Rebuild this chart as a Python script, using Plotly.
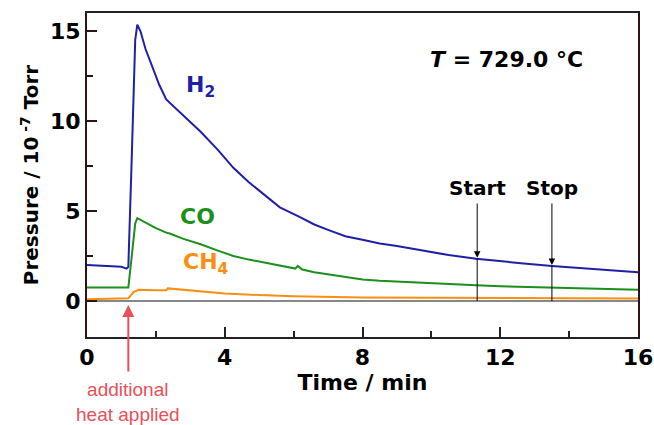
import plotly.graph_objects as go

# ---- data ----
h2_t = [0, 0.5, 1.0, 1.15, 1.2, 1.3, 1.4, 1.46, 1.55, 1.7, 1.9, 2.1, 2.3, 2.8, 3.3, 3.8,
        4.25, 4.7, 5.2, 5.6, 6.2, 6.6, 7.0, 7.5, 8.0, 8.5, 9.0, 9.5, 10.0, 10.5, 11.3,
        12.0, 12.6, 13.5, 14.2, 15.0, 15.5, 16.0]
h2_p = [2.0, 1.95, 1.9, 1.8, 1.9, 8.0, 14.5, 15.35, 15.0, 14.0, 13.0, 12.0, 11.2, 10.3,
        9.4, 8.4, 7.4, 6.6, 5.85, 5.2, 4.65, 4.25, 3.95, 3.6, 3.4, 3.2, 3.05, 2.87, 2.7,
        2.55, 2.35, 2.2, 2.1, 1.95, 1.85, 1.75, 1.7, 1.6]

co_t = [0, 0.5, 1.0, 1.2, 1.3, 1.4, 1.46, 1.7, 2.0, 2.3, 2.4, 2.8, 3.3, 3.8, 4.25, 4.7,
        5.2, 5.6, 6.05, 6.12, 6.25, 6.6, 7.0, 7.5, 8.0, 8.5, 9.5, 10.5, 11.3, 12.0, 13.5,
        15.0, 16.0]
co_p = [0.75, 0.75, 0.74, 0.75, 2.5, 4.3, 4.6, 4.35, 4.05, 3.8, 3.75, 3.45, 3.15, 2.8,
        2.5, 2.3, 2.1, 1.95, 1.8, 1.95, 1.75, 1.6, 1.48, 1.32, 1.2, 1.12, 1.02, 0.93, 0.88,
        0.82, 0.74, 0.67, 0.62]

ch4_t = [0, 1.0, 1.2, 1.35, 1.5, 2.0, 2.3, 2.35, 3.0, 4.0, 5.0, 6.0, 8.0, 10.0, 12.0, 14.0, 16.0]
ch4_p = [0.1, 0.12, 0.15, 0.5, 0.62, 0.6, 0.6, 0.7, 0.6, 0.42, 0.33, 0.26, 0.2, 0.17, 0.16, 0.15, 0.14]

x_ticks = [0, 4, 8, 12, 16]
y_ticks = [0, 5, 10, 15]

start_t, start_p = 11.33, 2.35
stop_t, stop_p = 13.5, 1.95
heat_t = 1.2

BOLD = "DejaVu Sans, sans-serif"
THIN = "Liberation Sans, Arial, sans-serif"
BLUE = "#1f1fa8"
GREEN = "#1c8f1c"
ORANGE = "#f98e14"
RED = "#e8505a"

fig = go.Figure()
fig.add_trace(go.Scatter(x=h2_t, y=h2_p, mode="lines", line=dict(color=BLUE, width=2)))
fig.add_trace(go.Scatter(x=co_t, y=co_p, mode="lines", line=dict(color=GREEN, width=2)))
fig.add_trace(go.Scatter(x=ch4_t, y=ch4_p, mode="lines", line=dict(color=ORANGE, width=2)))

# vertical marker lines for Start / Stop
for t, p in [(start_t, start_p), (stop_t, stop_p)]:
    fig.add_shape(type="line", x0=t, x1=t, y0=0, y1=p, xref="x", yref="y",
                  line=dict(color="black", width=1))

ann = []
ann.append(dict(x=3.3, y=11.9, text="<b>H<sub>2</sub></b>", showarrow=False,
                font=dict(color=BLUE, size=22, family=BOLD)))
ann.append(dict(x=3.2, y=4.7, text="<b>CO</b>", showarrow=False,
                font=dict(color=GREEN, size=22, family=BOLD)))
ann.append(dict(x=3.45, y=2.1, text="<b>CH<sub>4</sub></b>", showarrow=False,
                font=dict(color=ORANGE, size=22, family=BOLD)))
ann.append(dict(x=12.19, y=13.4, text="<b><i>T</i> = 729.0 °C</b>", showarrow=False,
                font=dict(color="black", size=22, family=BOLD)))
for t, p, label in [(start_t, start_p, "Start"), (stop_t, stop_p, "Stop")]:
    ann.append(dict(x=t, y=6.3, text="<b>" + label + "</b>", showarrow=False,
                    font=dict(color="black", size=20, family=BOLD)))
    ann.append(dict(x=t, y=p + 0.05, ax=t, ay=5.5, xref="x", yref="y", axref="x", ayref="y",
                    text="", showarrow=True, arrowhead=2, arrowsize=1.3, arrowwidth=1,
                    arrowcolor="black"))
ann.append(dict(x=heat_t, y=0.099, ax=0, ay=68, xref="x", yref="paper", axref="pixel",
                ayref="pixel", text="", showarrow=True, arrowhead=2, arrowsize=1.2,
                arrowwidth=2, arrowcolor=RED))
ann.append(dict(x=heat_t, y=-0.20, xref="x", yref="paper", yanchor="middle",
                text="additional<br>heat applied", showarrow=False,
                font=dict(color=RED, size=19, family=THIN)))

fig.update_layout(
    width=654, height=425,
    margin=dict(l=87, r=16, t=13, b=88, autoexpand=False),
    paper_bgcolor="white", plot_bgcolor="white",
    showlegend=False,
    annotations=ann,
    font=dict(family=BOLD, color="black"),
)
fig.update_xaxes(
    range=[0, 16], tickvals=x_ticks, ticktext=[str(v) for v in x_ticks],
    ticks="inside", ticklen=10, tickwidth=1.5, tickcolor="#222",
    minor=dict(ticks="inside", ticklen=6, tickwidth=1.5, dtick=2, tickcolor="#222"),
    showline=True, linecolor="#222", linewidth=2, mirror=True,
    showgrid=False, zeroline=False, automargin=False,
    tickfont=dict(size=22, family=BOLD, weight="bold"),
    title=dict(text="<b>Time / min</b>", font=dict(size=22, family=BOLD), standoff=4),
)
fig.update_yaxes(
    range=[-2, 16], tickvals=y_ticks, ticktext=[str(v) for v in y_ticks],
    ticks="inside", ticklen=10, tickwidth=1.5, tickcolor="#2a1414",
    minor=dict(ticks="inside", ticklen=6, tickwidth=1.5, dtick=2.5, tick0=0,
               tickcolor="#2a1414"),
    showline=True, linecolor="#2a1414", linewidth=2, mirror=True,
    showgrid=False, zeroline=True, zerolinecolor="#888", zerolinewidth=1.5,
    automargin=False,
    tickfont=dict(size=22, family=BOLD, weight="bold"),
    title=dict(text="<b>Pressure / 10<sup> -7</sup> Torr</b>", font=dict(size=20, family=BOLD),
               standoff=6),
)

fig.write_html("out.html")
